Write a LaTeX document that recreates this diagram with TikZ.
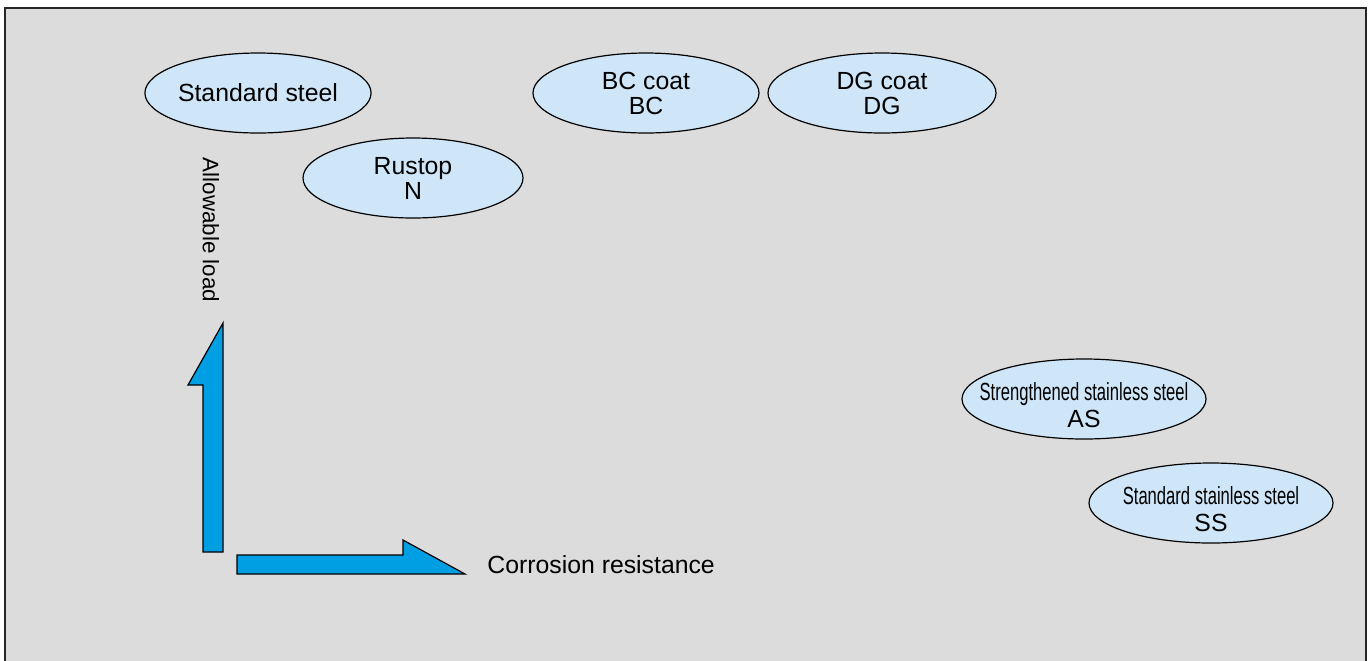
\documentclass[tikz,border=0pt]{standalone}
\usepackage{fontspec}
\setmainfont{Liberation Sans}
\usetikzlibrary{shapes.geometric}
\definecolor{panelgray}{RGB}{220,220,220}
\definecolor{ovalblue}{RGB}{207,230,248}
\definecolor{arrowblue}{RGB}{0,159,227}
\newcommand{\narrowtext}[1]{\rule{0pt}{15pt}\scalebox{0.67}[1]{#1}}

\begin{document}
\begin{tikzpicture}[x=0.5pt,y=-0.5pt]
        \tikzstyle{every node}=[font=\fontsize{12.4}{12.5}\selectfont, inner sep=0pt]
        \tikzstyle{steel}=[ellipse, draw=black, line width=0.6pt, fill=ovalblue, align=center, minimum width=110pt, minimum height=40pt]
        \tikzstyle{stainless}=[steel, minimum width=122pt, inner xsep=-12pt, inner ysep=-4pt, font=\fontsize{12.4}{13.5}\selectfont]
        \tikzstyle{axisarrow}=[fill=arrowblue, draw=black, line width=0.6pt, line join=miter]
        \useasboundingbox (0,0) rectangle (1370,660);
        \draw[fill=panelgray, draw=black!85, line width=1pt] (5,8) rectangle (1366,666);
        % materials
        \node[steel] (std) at (258,93) {Standard steel};
        \node[steel] (rustop) at (413,178) {Rustop\\N};
        \node[steel, minimum width=113pt] (bc) at (646,93) {BC coat\\BC};
        \node[steel, minimum width=114pt] (dg) at (882,93) {DG coat\\DG};
        \node[stainless] (as) at (1084,399) {\narrowtext{Strengthened stainless steel}\\AS};
        \node[stainless] (ss) at (1211,503) {\narrowtext{Standard stainless steel}\\SS};
        % axes
        \draw[axisarrow] (223,323) -- (188,385) -- (203,385) -- (203,552) -- (223,552) -- cycle;
        \draw[axisarrow] (237,555) -- (403,555) -- (403,540) -- (465,574) -- (237,574) -- cycle;
        \node[rotate=-90, font=\fontsize{11.2}{12}\selectfont] (load) at (211,230) {Allowable load};
        \node[anchor=base west] (corr) at (487,573) {Corrosion resistance};
\end{tikzpicture}
\end{document}
